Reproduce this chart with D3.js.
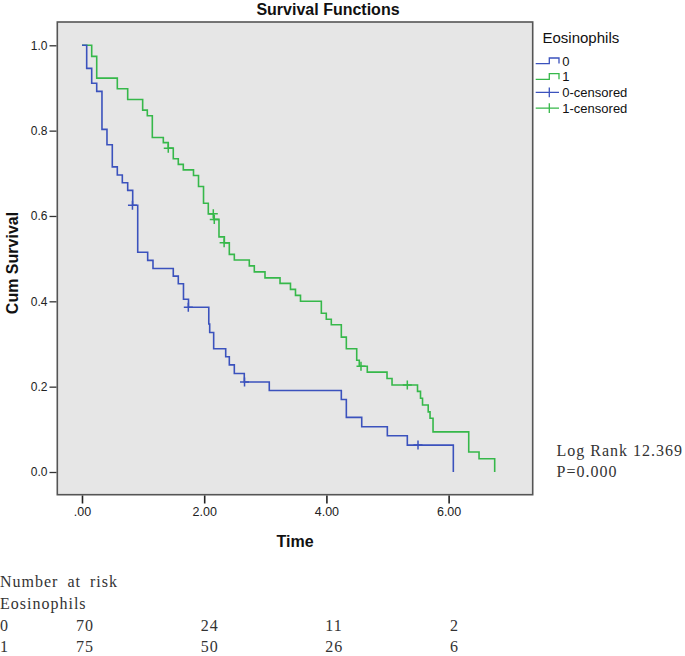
<!DOCTYPE html>
<html>
<head>
<meta charset="utf-8">
<script src="https://cdn.jsdelivr.net/npm/d3@7"></script>
<style>
  html, body { margin: 0; padding: 0; background: #fff; }
  svg { display: block; }
</style>
</head>
<body>
<svg id="chart" width="685" height="656"></svg>
<script>
// ---------------- DATA ----------------
const groupNames = ["0", "1"];
const legendTitle = "Eosinophils";

// Group 0 (blue): event times and survival after each event
const g0Times = [0, 0.077, 0.159, 0.241, 0.327, 0.409, 0.496, 0.578, 0.660, 0.748, 0.830, 0.912, 1.075, 1.162,
  1.494, 1.576, 1.661, 1.743, 2.075, 2.090, 2.155, 2.352, 2.411, 2.493, 2.656, 3.065, 4.244, 4.326, 4.578,
  4.997, 5.324, 6.077];
const g0Surv = [1.0, 0.946, 0.911, 0.892, 0.803, 0.767, 0.715, 0.696, 0.678, 0.660, 0.625, 0.515, 0.496, 0.477,
  0.459, 0.441, 0.405, 0.386, 0.347, 0.327, 0.289, 0.270, 0.251, 0.231, 0.211, 0.191, 0.170, 0.128, 0.106,
  0.085, 0.063, 0.0];
const g0CensorTimes = [0.826, 1.740, 2.660, 5.499];
const g0CensorSurv = [0.625, 0.386, 0.211, 0.063];

// Group 1 (green)
const g1Times = [0, 0.159, 0.241, 0.578, 0.748, 0.993, 1.069, 1.151, 1.331, 1.412, 1.494, 1.576, 1.658, 1.825,
  1.907, 1.989, 2.067, 2.155, 2.242, 2.330, 2.411, 2.493, 2.738, 2.820, 2.995, 3.241, 3.412, 3.494, 3.576,
  3.917, 3.998, 4.080, 4.244, 4.326, 4.496, 4.538, 4.669, 4.992, 5.074, 5.491, 5.540, 5.573, 5.666, 5.696,
  5.745, 6.329, 6.498, 6.754];
const g1Surv = [1.0, 0.974, 0.923, 0.898, 0.873, 0.848, 0.835, 0.784, 0.772, 0.759, 0.734, 0.721, 0.708, 0.695,
  0.669, 0.630, 0.605, 0.592, 0.551, 0.537, 0.510, 0.497, 0.483, 0.469, 0.455, 0.442, 0.428, 0.414, 0.400,
  0.372, 0.358, 0.345, 0.316, 0.289, 0.262, 0.248, 0.234, 0.219, 0.204, 0.189, 0.173, 0.157, 0.141, 0.126,
  0.094, 0.047, 0.031, 0.0];
const g1CensorTimes = [1.412, 2.149, 2.165, 2.326, 4.566, 5.324];
const g1CensorSurv = [0.759, 0.605, 0.592, 0.537, 0.248, 0.204];

const xTickValues = [0, 2, 4, 6];
const xTickLabels = [".00", "2.00", "4.00", "6.00"];
const yTickValues = [0, 0.2, 0.4, 0.6, 0.8, 1.0];
const yTickLabels = ["0.0", "0.2", "0.4", "0.6", "0.8", "1.0"];

const riskTimes = [0, 2, 4, 6];
const risk0 = [70, 24, 11, 2];
const risk1 = [75, 50, 26, 6];

const logRankText = "Log Rank 12.369";
const pText = "P=0.000";

// ---------------- STYLE ----------------
const colors = ["#3b52bd", "#36b84a"];
const sansFont = "Arial, 'Liberation Sans', sans-serif";
const serifFont = "'Liberation Serif', 'Times New Roman', serif";

const svg = d3.select("#chart");

const plot = { left: 57.3, right: 532.7, top: 22, bottom: 494.7 };
const x = d3.scaleLinear().domain([-0.404, 7.376]).range([plot.left, plot.right]);
const y = d3.scaleLinear().domain([-0.0532, 1.0546]).range([plot.bottom, plot.top]);

// background
svg.append("rect")
  .attr("x", plot.left).attr("y", plot.top)
  .attr("width", plot.right - plot.left).attr("height", plot.bottom - plot.top)
  .attr("fill", "#e6e6e6");

// curves
const line = d3.line().x(d => x(d[0])).y(d => y(d[1])).curve(d3.curveStepAfter);
const groups = [
  { times: g0Times, surv: g0Surv, ct: g0CensorTimes, cs: g0CensorSurv },
  { times: g1Times, surv: g1Surv, ct: g1CensorTimes, cs: g1CensorSurv }
];
[1, 0].forEach(gi => {
  const g = groups[gi];
  const pts = g.times.map((t, i) => [t, g.surv[i]]);
  svg.append("path")
    .attr("d", line(pts))
    .attr("fill", "none")
    .attr("stroke", colors[gi])
    .attr("stroke-width", 1.6);
  const cs = 4.5;
  g.ct.forEach((t, i) => {
    const cx = x(t), cy = y(g.cs[i]);
    svg.append("path")
      .attr("d", `M${cx - cs},${cy}H${cx + cs}M${cx},${cy - cs}V${cy + cs}`)
      .attr("stroke", colors[gi]).attr("stroke-width", 1.5).attr("fill", "none");
  });
});

// frame
svg.append("rect")
  .attr("x", plot.left).attr("y", plot.top)
  .attr("width", plot.right - plot.left).attr("height", plot.bottom - plot.top)
  .attr("fill", "none").attr("stroke", "#555").attr("stroke-width", 1.6);

// y axis
const yAxis = d3.axisLeft(y).tickValues(yTickValues)
  .tickFormat((d, i) => yTickLabels[i]).tickSize(7).tickPadding(2);
const gy = svg.append("g").attr("transform", `translate(${plot.left - 0.8},0)`).call(yAxis);
gy.select(".domain").remove();
gy.selectAll("line").attr("stroke", "#333").attr("stroke-width", 1.3);
gy.selectAll("text").attr("font-family", sansFont).attr("font-size", 12).attr("fill", "#222");

// x axis
const xAxis = d3.axisBottom(x).tickValues(xTickValues)
  .tickFormat((d, i) => xTickLabels[i]).tickSize(8).tickPadding(4);
const gx = svg.append("g").attr("transform", `translate(0,${plot.bottom + 0.8})`).call(xAxis);
gx.select(".domain").remove();
gx.selectAll("line").attr("stroke", "#222").attr("stroke-width", 1.6);
gx.selectAll("text").attr("font-family", sansFont).attr("font-size", 12.5).attr("fill", "#222");

// titles
svg.append("text").attr("x", 328).attr("y", 15).attr("text-anchor", "middle")
  .attr("font-family", sansFont).attr("font-weight", "bold").attr("font-size", 16)
  .attr("fill", "#111").text("Survival Functions");
svg.append("text").attr("x", (plot.left + plot.right) / 2).attr("y", 547).attr("text-anchor", "middle")
  .attr("font-family", sansFont).attr("font-weight", "bold").attr("font-size", 16)
  .attr("fill", "#111").text("Time");
svg.append("text").attr("transform", `translate(18,263) rotate(-90)`).attr("text-anchor", "middle")
  .attr("font-family", sansFont).attr("font-weight", "bold").attr("font-size", 16)
  .attr("fill", "#111").text("Cum Survival");

// legend
const lg = svg.append("g");
lg.append("text").attr("x", 542.5).attr("y", 43).attr("font-family", sansFont).attr("font-size", 15)
  .attr("fill", "#111").text(legendTitle);
const legendItems = [
  { label: groupNames[0], color: colors[0], type: "step" },
  { label: groupNames[1], color: colors[1], type: "step" },
  { label: groupNames[0] + "-censored", color: colors[0], type: "censor" },
  { label: groupNames[1] + "-censored", color: colors[1], type: "censor" }
];
legendItems.forEach((it, i) => {
  const by = 61 + i * 15.7;
  if (it.type === "step") {
    lg.append("path")
      .attr("d", `M535.7,${by + 2.6}H549.3V${by - 3}H559V${by + 2.6}`)
      .attr("fill", "none").attr("stroke", it.color).attr("stroke-width", 1.3);
  } else {
    lg.append("path")
      .attr("d", `M535.7,${by}H559M549.3,${by - 4.8}V${by + 4.8}`)
      .attr("fill", "none").attr("stroke", it.color).attr("stroke-width", 1.3);
  }
  lg.append("text").attr("x", 562.3).attr("y", by + 4.6).attr("font-family", sansFont)
    .attr("font-size", 13).attr("fill", "#111").text(it.label);
});

// log rank text
svg.append("text").attr("x", 556.5).attr("y", 456).attr("font-family", serifFont).attr("font-size", 16)
  .attr("letter-spacing", 1).attr("fill", "#333").text(logRankText);
svg.append("text").attr("x", 556.5).attr("y", 477).attr("font-family", serifFont).attr("font-size", 16)
  .attr("letter-spacing", 1).attr("fill", "#333").text(pText);

// number at risk table
const riskX = d3.scaleLinear().domain([0, 6]).range([76, 450]);
const tbl = svg.append("g").attr("font-family", serifFont).attr("font-size", 16)
  .attr("letter-spacing", 1).attr("fill", "#333");
tbl.append("text").attr("x", 0).attr("y", 587).attr("word-spacing", 4).text("Number at risk");
tbl.append("text").attr("x", 0).attr("y", 609).text(legendTitle);
[risk0, risk1].forEach((row, ri) => {
  const yy = 630.5 + ri * 21.5;
  tbl.append("text").attr("x", 0).attr("y", yy).text(groupNames[ri]);
  row.forEach((v, i) => {
    tbl.append("text").attr("x", riskX(riskTimes[i])).attr("y", yy).text(v);
  });
});
</script>
</body>
</html>
